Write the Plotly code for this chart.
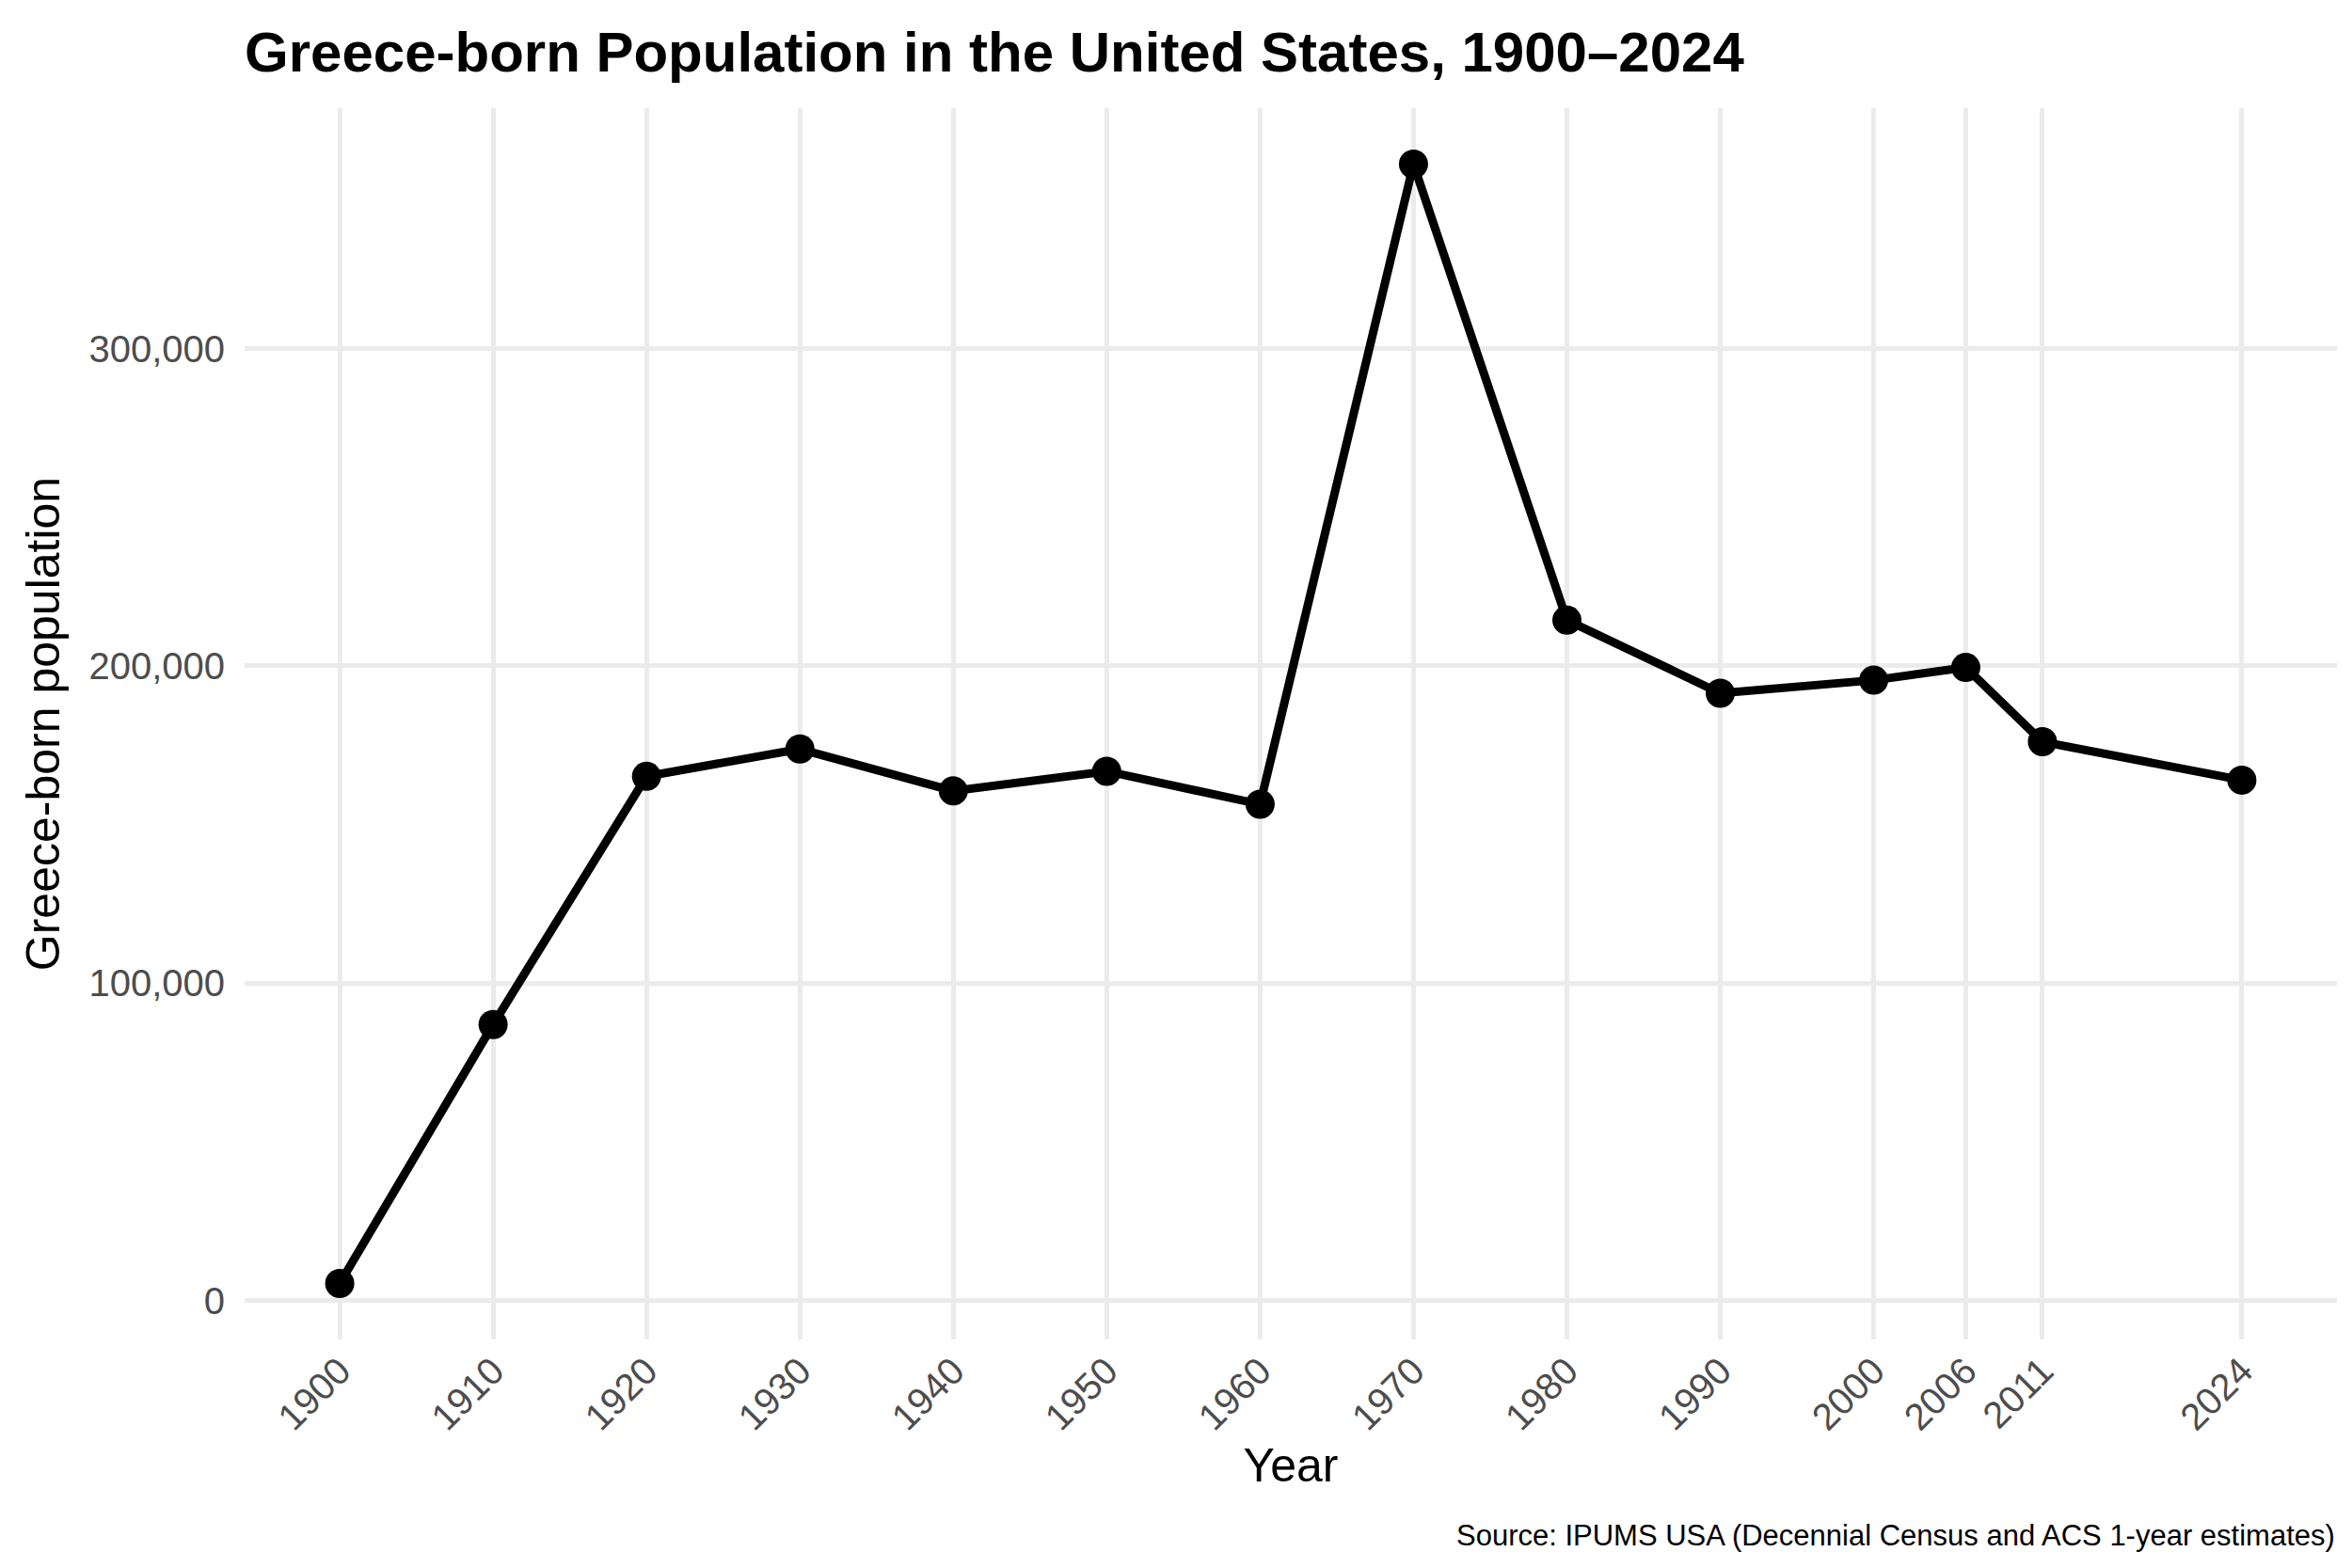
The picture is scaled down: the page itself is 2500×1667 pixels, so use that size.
import plotly.graph_objects as go

# Greece-born population in the US
years = [1900, 1910, 1920, 1930, 1940, 1950, 1960, 1970, 1980, 1990, 2000, 2006, 2011, 2024]
population = [5400, 87000, 165200, 173800, 160600, 166800, 156400, 358100,
              214400, 191400, 195500, 199500, 176100, 164000]
year_labels = [str(y) for y in years]
y_ticks = [0, 100000, 200000, 300000]
y_tick_labels = ["0", "100,000", "200,000", "300,000"]

FONT = "Liberation Sans, Arial, sans-serif"
GRID = "#ebebeb"
W, H = 2500, 1667
M = dict(l=252, r=24, t=107, b=251)
plot_h = H - M["t"] - M["b"]


def expand(lo, hi, mult=0.05):
    pad = (hi - lo) * mult
    return [lo - pad, hi + pad]


fig = go.Figure()
fig.add_trace(go.Scatter(
    x=years, y=population,
    mode="lines+markers",
    line=dict(color="black", width=9),
    marker=dict(color="black", size=31),
    showlegend=False,
    hovertemplate="%{x}: %{y:,}<extra></extra>",
))

fig.update_layout(
    width=W, height=H,
    paper_bgcolor="white", plot_bgcolor="white",
    margin=M,
    font=dict(family=FONT, color="black"),
    title=dict(
        text="<b>Greece-born Population in the United States, 1900–2024</b>",
        font=dict(size=60, color="black"),
        xref="paper", x=0, xanchor="left",
        yref="container", y=1 - 47 / H, yanchor="middle",
    ),
    annotations=[dict(
        text="Source: IPUMS USA (Decennial Census and ACS 1-year estimates)",
        xref="paper", yref="paper", x=1.0, y=-(1625 - (H - M["b"])) / plot_h,
        xanchor="right", yanchor="middle", showarrow=False,
        font=dict(size=31, color="black"),
    )],
)

fig.update_xaxes(
    range=expand(min(years), max(years)),
    tickmode="array", tickvals=years, ticktext=year_labels,
    tickangle=-45,
    tickfont=dict(size=40, color="#4d4d4d"),
    ticklabelstandoff=1,
    showgrid=True, gridcolor=GRID, gridwidth=4.7,
    zeroline=False, showline=False, ticks="",
    title=dict(text="Year", font=dict(size=50, color="black"), standoff=12),
    automargin=False,
)
fig.update_yaxes(
    range=expand(min(population), max(population)),
    tickmode="array", tickvals=y_ticks, ticktext=y_tick_labels,
    tickfont=dict(size=40, color="#4d4d4d"),
    ticklabelstandoff=20,
    showgrid=True, gridcolor=GRID, gridwidth=4.7,
    zeroline=False, showline=False, ticks="",
    title=dict(text="Greece-born population", font=dict(size=50, color="black"), standoff=14),
    automargin=False,
)

fig.write_html("out.html")
